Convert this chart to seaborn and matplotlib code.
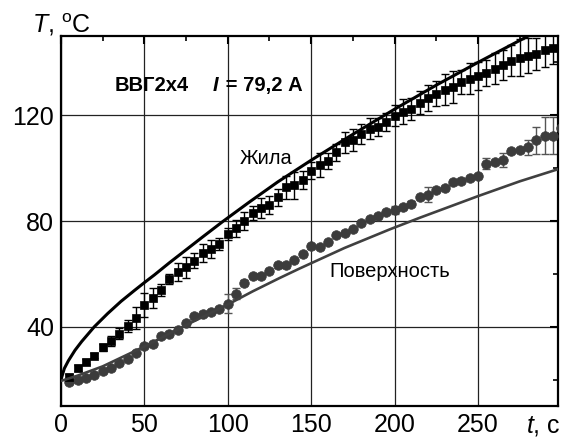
import numpy as np
import pandas as pd
import matplotlib
matplotlib.use("Agg")
import matplotlib.pyplot as plt
import seaborn as sns
from matplotlib.ticker import MultipleLocator

# ---------------- data ----------------
core_t = list(range(5, 300, 5))
core_T = [21.0, 24.4, 26.8, 29.1, 32.2, 34.6, 37.4, 40.4, 43.3, 48.1,
          50.9, 54.0, 58.0, 60.6, 62.5, 65.0, 67.8, 69.4, 71.4, 75.0,
          77.3, 80.1, 83.0, 85.0, 86.1, 89.0, 92.8, 93.5, 95.4, 99.1,
          101.2, 102.6, 106.0, 109.8, 110.8, 113.0, 115.0, 115.6, 117.4, 119.9,
          121.3, 122.5, 124.7, 126.6, 128.2, 129.7, 130.7, 132.6, 133.9, 134.8,
          136.0, 137.7, 138.9, 140.7, 141.7, 142.6, 143.3, 144.6, 145.5]
core_err = [1.0, 1.0, 1.0, 1.0, 1.2, 1.9, 2.2, 2.3, 4.3, 4.5,
            3.9, 2.2, 1.9, 3.4, 3.9, 2.8, 3.4, 3.5, 2.2, 2.2,
            3.2, 3.4, 2.8, 3.8, 3.4, 3.2, 4.3, 5.2, 3.4, 3.2,
            4.7, 3.0, 3.2, 4.0, 4.2, 3.8, 3.8, 3.4, 3.4, 4.0,
            4.7, 4.2, 4.4, 5.0, 4.7, 5.8, 6.0, 4.7, 5.7, 5.4,
            5.0, 5.7, 5.7, 6.0, 7.0, 6.6, 6.0, 6.5, 6.0]

surf_t = list(range(5, 305, 5))
surf_T = [19.1, 20.0, 20.6, 21.6, 23.1, 24.4, 26.3, 27.9, 30.1, 32.6,
          33.5, 36.6, 37.4, 38.9, 41.4, 43.9, 45.0, 45.6, 46.7, 48.7,
          52.5, 56.7, 59.2, 59.1, 61.2, 63.2, 63.2, 65.1, 67.6, 70.4,
          70.2, 72.1, 74.6, 75.5, 77.0, 79.3, 80.9, 81.8, 83.3, 84.3,
          85.2, 86.6, 89.1, 90.0, 91.6, 92.5, 94.6, 95.3, 96.2, 97.1,
          101.6, 102.2, 103.1, 106.4, 107.0, 107.9, 110.5, 112.3, 112.3, 115.3]
surf_err = [0.8, 0.8, 0.8, 0.8, 0.8, 0.8, 0.8, 0.8, 0.8, 0.8,
            0.8, 0.8, 0.8, 0.8, 0.8, 0.8, 0.8, 0.8, 0.8, 3.5,
            2.2, 1.0, 0.8, 0.8, 0.8, 0.8, 0.8, 0.8, 0.8, 1.0,
            0.8, 0.8, 0.8, 0.8, 0.8, 0.8, 0.8, 0.8, 0.8, 1.5,
            0.8, 0.8, 0.8, 2.9, 0.8, 0.8, 0.8, 0.8, 0.8, 0.8,
            2.1, 0.8, 2.8, 0.8, 0.8, 2.9, 5.0, 7.0, 7.0, 7.0]

# model curves
core_model_t = [0, 2, 4.4, 8.4, 12.4, 20, 28, 36, 44, 50, 56, 65, 75, 85, 97,
                113, 130, 150, 175, 200, 225, 250, 275, 283, 298]
core_model_T = [20.0, 24.2, 27.1, 31.1, 34.4, 40.0, 45.0, 49.6, 53.7, 56.7, 59.6,
                64.2, 69.1, 74.0, 79.8, 87.2, 94.8, 103.0, 112.8, 122.3, 131.4,
                140.0, 148.3, 150.9, 155.8]
surf_model_t = [0, 10, 25, 50, 75, 100, 115, 131, 143, 170, 197, 215, 250, 275, 298]
surf_model_T = [19.5, 21.5, 25.0, 32.5, 40.6, 48.4, 53.4, 58.4, 62.0, 69.8,
                76.8, 81.2, 89.4, 95.0, 99.6]

xticks = [0, 50, 100, 150, 200, 250]
yticks = [40, 80, 120]

# ---------------- style ----------------
sns.set_theme(style="white")
plt.rcParams['font.family'] = ['Liberation Sans', 'DejaVu Sans']
plt.rcParams['mathtext.fontset'] = 'custom'
plt.rcParams['mathtext.rm'] = 'Liberation Sans'
plt.rcParams['mathtext.it'] = 'Liberation Sans:italic'
plt.rcParams['mathtext.bf'] = 'Liberation Sans:bold'
plt.rcParams['text.color'] = 'black'
plt.rcParams['xtick.color'] = 'black'
plt.rcParams['ytick.color'] = 'black'

fig = plt.figure(figsize=(5.63, 4.43), dpi=100)
ax = fig.add_axes([61/563, 1-406/443, (558-61)/563, (406-36)/443])

core_df = pd.DataFrame({"t": core_t, "T": core_T})
surf_df = pd.DataFrame({"t": surf_t, "T": surf_T})
cm_df = pd.DataFrame({"t": core_model_t, "T": core_model_T})
sm_df = pd.DataFrame({"t": surf_model_t, "T": surf_model_T})

ax.grid(True, color="#222222", linewidth=0.9, zorder=0)

# error bars
ax.errorbar(surf_t, surf_T, yerr=surf_err, fmt='none', ecolor="#555555",
            elinewidth=1.0, capsize=3.2, capthick=1.0, zorder=2)
ax.errorbar(core_t, core_T, yerr=core_err, fmt='none', ecolor="black",
            elinewidth=1.0, capsize=3.2, capthick=1.0, zorder=2)

# markers
sns.scatterplot(data=surf_df, x="t", y="T", ax=ax, marker="o", s=48,
                color="#3c3c3c", edgecolor="#3c3c3c", linewidth=0.5, zorder=3)
sns.scatterplot(data=core_df, x="t", y="T", ax=ax, marker="s", s=40,
                color="black", edgecolor="black", linewidth=0.5, zorder=3)

# model lines
sns.lineplot(data=cm_df, x="t", y="T", ax=ax, color="black", linewidth=2.2,
             sort=True, estimator=None, zorder=4)
sns.lineplot(data=sm_df, x="t", y="T", ax=ax, color="#404040", linewidth=1.9,
             sort=True, estimator=None, zorder=4)

ax.set_xlim(0, 298)
ax.set_ylim(10, 150)
ax.set_xticks(xticks)
ax.set_yticks(yticks)
ax.xaxis.set_minor_locator(MultipleLocator(25))
ax.yaxis.set_minor_locator(MultipleLocator(20))
ax.tick_params(which='major', direction='in', length=6, width=1.5,
               top=True, right=True, labelsize=18, pad=5, colors='black')
ax.tick_params(which='minor', direction='in', length=3.5, width=1.2,
               top=True, right=True, colors='black')
ax.set_xlabel("")
ax.set_ylabel("")
for sp in ax.spines.values():
    sp.set_linewidth(1.6)
    sp.set_color("black")

# annotations
ax.text(32.3, 129.1, "ВВГ2х4", fontsize=14.5, fontweight='bold', va='baseline',
        ha='left', color='black')
ax.text(91, 129.1, "I", fontsize=14.5, fontweight='bold', fontstyle='italic',
        va='baseline', ha='left', color='black')
ax.text(95.5, 129.1, " = 79,2 А", fontsize=14.5, fontweight='bold', va='baseline',
        ha='left', color='black')
ax.text(107.2, 101.7, "Жила", fontsize=14.5, va='baseline', ha='left', color='black')
ax.text(160.7, 58.8, "Поверхность", fontsize=14.5, va='baseline', ha='left', color='black')

fig.text(32/563, 1-32/443, r"$\it{T}$, $^{\rm o}$C", fontsize=18, va='baseline',
         ha='left', color='black')
fig.text(561/563, 1-433/443, r"$\it{t}$, c", fontsize=18, va='baseline',
         ha='right', color='black')

fig.savefig("out.png", dpi=100)
